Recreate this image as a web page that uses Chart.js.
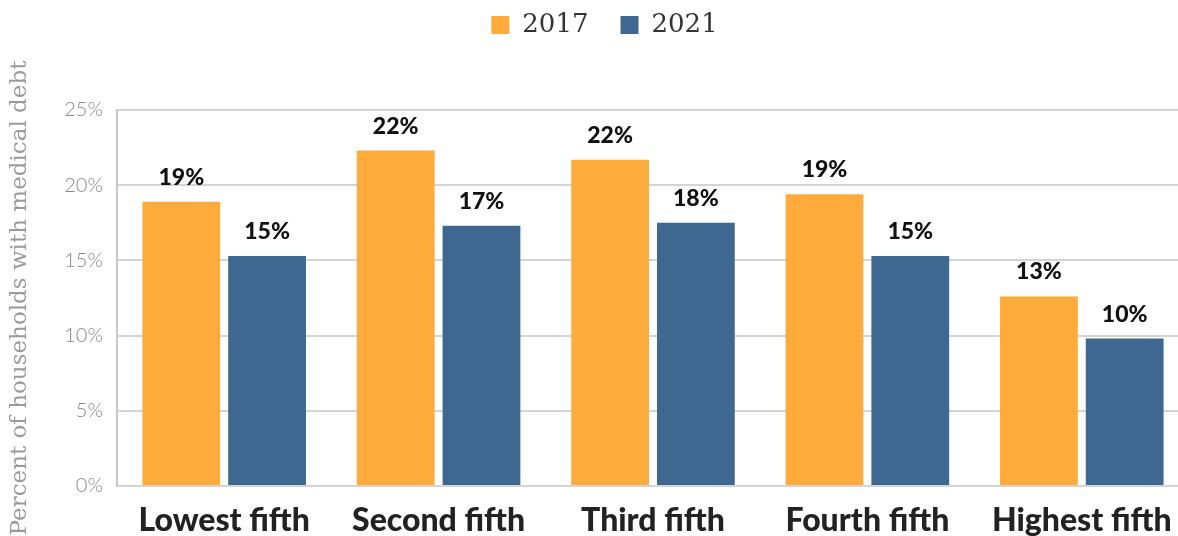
<!DOCTYPE html>
<html>
<head>
<meta charset="utf-8">
<script src="https://cdn.jsdelivr.net/npm/chart.js@4"></script>
<style>
  html, body { margin: 0; padding: 0; background: #fff; overflow: hidden; }
  #wrap { width: 1192px; height: 536px; position: relative; }
</style>
</head>
<body>
<div id="wrap"><canvas id="chart"></canvas></div>
<script>
const categories = ["Lowest fifth", "Second fifth", "Third fifth", "Fourth fifth", "Highest fifth"];
const values2017 = [18.9, 22.3, 21.7, 19.4, 12.6];
const values2021 = [15.3, 17.3, 17.5, 15.3, 9.8];
const labels2017 = ["19%", "22%", "22%", "19%", "13%"];
const labels2021 = ["15%", "17%", "18%", "15%", "10%"];
const yTicks = [0, 5, 10, 15, 20, 25];

// draws the rounded labels above each bar
const barLabels = {
  id: "barLabels",
  afterDatasetsDraw(chart) {
    const ctx = chart.ctx;
    ctx.save();
    ctx.font = "900 23px Lato";
    ctx.fillStyle = "#111";
    ctx.textAlign = "center";
    ctx.textBaseline = "alphabetic";
    chart.data.datasets.forEach((ds, i) => {
      chart.getDatasetMeta(i).data.forEach((bar, j) => {
        ctx.fillText(ds.valueLabels[j], bar.x, bar.y - 17);
      });
    });
    ctx.restore();
  }
};

// push the plot down below the legend, nudge legend a bit right
const legendGap = {
  id: "legendGap",
  beforeInit(chart) {
    const fit = chart.legend.fit;
    chart.legend.fit = function () {
      fit.bind(chart.legend)();
      this.height = 130;
    };
  },
  beforeDraw(chart) {
    if (!chart.legend._nudged) {
      chart.legend.left += 20;
      chart.legend._nudged = true;
    }
  }
};

new Chart(document.getElementById("chart"), {
  type: "bar",
  data: {
    labels: categories,
    datasets: [
      { label: "2017", data: values2017, valueLabels: labels2017, backgroundColor: "#FDAC3B" },
      { label: "2021", data: values2021, valueLabels: labels2021, backgroundColor: "#3F6890" }
    ]
  },
  options: {
    responsive: true,
    maintainAspectRatio: false,
    animation: false,
    categoryPercentage: 0.8,
    barPercentage: 0.907,
    layout: { padding: { top: -20, left: 0, right: 3, bottom: 0 } },
    plugins: {
      tooltip: { enabled: false },
      legend: {
        position: "top",
        labels: {
          font: { family: "DejaVu Serif", size: 26 },
          color: "#333",
          boxWidth: 18,
          boxHeight: 18,
          padding: 32
        }
      }
    },
    scales: {
      x: {
        afterFit: s => { s.height = 50; },
        grid: { display: false },
        border: { display: false },
        ticks: {
          font: { family: "Lato", size: 32, weight: 900 },
          color: "#222",
          padding: 7
        }
      },
      y: {
        min: 0,
        max: 25,
        afterFit: s => { s.width = 117; },
        afterBuildTicks: axis => { axis.ticks = yTicks.map(v => ({ value: v })); },
        grid: { color: "#d4d4d4", lineWidth: 2, drawTicks: false },
        border: { color: "#c8c8c8", width: 2 },
        ticks: {
          callback: v => v + "%",
          font: { family: "Lato", size: 20, weight: 300 },
          color: "#888",
          padding: 14
        },
        title: {
          display: true,
          text: "Percent of households with medical debt",
          font: { family: "DejaVu Serif", size: 23, weight: "normal" },
          color: "#9a9a9a",
          padding: { top: 6, bottom: 18 }
        }
      }
    }
  },
  plugins: [barLabels, legendGap]
});
</script>
</body>
</html>
